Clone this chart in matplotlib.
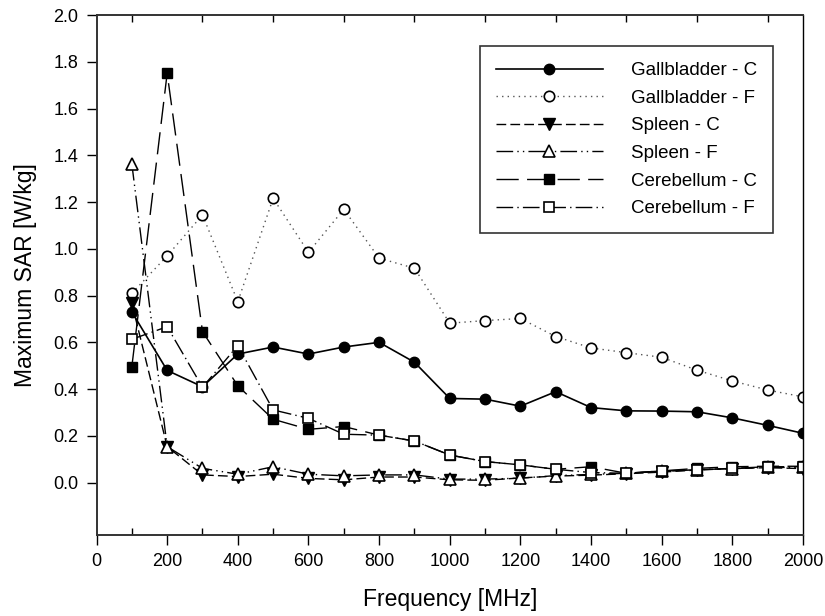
import matplotlib
matplotlib.use("Agg")
import matplotlib.pyplot as plt
from matplotlib.ticker import MultipleLocator, FixedLocator

plt.rcParams['font.family'] = ['Liberation Sans', 'DejaVu Sans']

freq = [100, 200, 300, 400, 500, 600, 700, 800, 900, 1000,
        1100, 1200, 1300, 1400, 1500, 1600, 1700, 1800, 1900, 2000]

gall_c = [0.73, 0.48, 0.41, 0.55, 0.58, 0.55, 0.58, 0.60, 0.515, 0.36,
          0.357, 0.327, 0.389, 0.321, 0.307, 0.306, 0.303, 0.277, 0.245, 0.211]
gall_f = [0.81, 0.97, 1.145, 0.774, 1.216, 0.985, 1.169, 0.960, 0.917, 0.682,
          0.693, 0.702, 0.625, 0.576, 0.556, 0.536, 0.481, 0.435, 0.396, 0.367]
spleen_c = [0.767, 0.154, 0.033, 0.026, 0.036, 0.018, 0.012, 0.024, 0.024, 0.012,
            0.010, 0.020, 0.028, 0.032, 0.038, 0.045, 0.054, 0.060, 0.064, 0.060]
spleen_f = [1.363, 0.154, 0.061, 0.036, 0.068, 0.036, 0.029, 0.033, 0.033, 0.015,
            0.015, 0.019, 0.030, 0.035, 0.040, 0.048, 0.055, 0.060, 0.065, 0.065]
cereb_c = [0.496, 1.751, 0.646, 0.414, 0.271, 0.228, 0.240, 0.203, 0.178, 0.118,
           0.090, 0.076, 0.057, 0.068, 0.040, 0.050, 0.061, 0.068, 0.070, 0.070]
cereb_f = [0.613, 0.667, 0.408, 0.586, 0.311, 0.275, 0.207, 0.203, 0.178, 0.118,
           0.090, 0.076, 0.057, 0.043, 0.040, 0.050, 0.055, 0.061, 0.068, 0.068]

labels = ["Gallbladder - C", "Gallbladder - F", "Spleen - C",
          "Spleen - F", "Cerebellum - C", "Cerebellum - F"]

fig = plt.figure(figsize=(8.25, 6.16), dpi=100)
ax = fig.add_axes([0.117, 0.1315, 0.8563, 0.8441])

ms = 7.5
ax.plot(freq, gall_c, color='black', lw=1.2, ls='-', marker='o', ms=ms,
        mfc='black', mec='black', label=labels[0])
ax.plot(freq, gall_f, color='#555555', lw=1.0, ls=(0, (1, 3)), marker='o', ms=ms,
        mfc='white', mec='black', mew=1.2, label=labels[1])
ax.plot(freq, spleen_c, color='black', lw=1.0, ls=(0, (7, 3)), marker='v', ms=ms+1,
        mfc='black', mec='black', label=labels[2])
ax.plot(freq, spleen_f, color='black', lw=1.0, ls=(0, (12, 3, 1, 3, 1, 3)), marker='^',
        ms=ms+1, mfc='white', mec='black', mew=1.2, label=labels[3])
ax.plot(freq, cereb_c, color='black', lw=1.0, ls=(0, (16, 6)), marker='s', ms=ms,
        mfc='black', mec='black', label=labels[4])
ax.plot(freq, cereb_f, color='black', lw=1.0, ls=(0, (12, 3, 1, 3)), marker='s', ms=ms,
        mfc='white', mec='black', mew=1.2, label=labels[5])

ax.set_xlim(0, 2000)
ax.set_ylim(-0.224, 2.0)

ax.xaxis.set_major_locator(MultipleLocator(200))
ax.xaxis.set_minor_locator(FixedLocator(list(range(100, 2000, 200))))
ax.yaxis.set_major_locator(FixedLocator([round(0.2 * i, 1) for i in range(11)]))
ax.set_yticklabels([f"{0.2 * i:.1f}" for i in range(11)])

ax.tick_params(axis='x', which='major', direction='out', length=7, width=1.0,
               labelsize=13, top=False, bottom=True, pad=6)
ax.tick_params(axis='x', which='minor', direction='in', length=5, width=1.0,
               top=True, bottom=True)
ax.tick_params(axis='y', which='major', direction='out', length=7, width=1.0,
               labelsize=13, left=True, right=False, pad=6)

for side in ['left', 'bottom', 'top']:
    ax.spines[side].set_linewidth(1.4)
    ax.spines[side].set_color('#333333')
ax.spines['right'].set_linewidth(1.0)

ax.set_xlabel("Frequency [MHz]", fontsize=16.5, labelpad=13)
ax.set_ylabel("Maximum SAR [W/kg]", fontsize=16.5, labelpad=12)

leg = ax.legend(loc='upper right', bbox_to_anchor=(0.9575, 0.9404), fontsize=13.5,
                frameon=True, fancybox=False, edgecolor='black', handlelength=5.7,
                handletextpad=1.5, borderpad=0.85, labelspacing=0.56,
                borderaxespad=0)
leg.get_frame().set_linewidth(1.2)

fig.savefig("out.png", dpi=100)
